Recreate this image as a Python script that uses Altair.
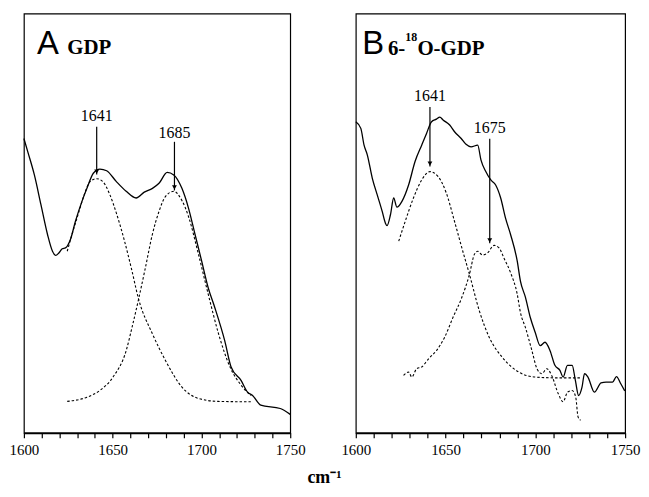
import altair as alt
import pandas as pd

# ---------------- Panel A : GDP ----------------
a_solid_wn = [1600.0, 1602.2, 1605.9, 1609.6, 1613.3, 1616.1, 1617.9, 1619.7, 1621.6, 1623.4,
              1626.2, 1629.0, 1632.7, 1635.5, 1639.1, 1642.8, 1646.6, 1652.1, 1657.6, 1663.2,
              1667.8, 1672.4, 1676.1, 1680.7, 1684.4, 1689.0, 1692.7, 1696.4, 1700.1, 1703.8,
              1707.5, 1713.1, 1716.7, 1722.3, 1726.0, 1728.8, 1733.4, 1744.4, 1750.0]
a_solid_abs = [70.2, 67.0, 61.5, 54.4, 47.3, 43.3, 42.3, 42.9, 43.9, 44.1,
               46.1, 50.4, 55.2, 58.3, 61.9, 62.9, 62.5, 59.9, 57.6, 56.0,
               57.4, 58.3, 59.5, 62.1, 61.5, 58.3, 53.6, 47.3, 41.0, 34.6,
               29.9, 22.0, 15.7, 12.5, 9.7, 8.9, 6.6, 5.8, 4.4]

a_fit1_wn = [1624.4, 1627.3, 1630.7, 1634.0, 1637.3, 1641.0, 1644.5, 1648.4, 1652.3, 1656.7,
             1660.6, 1664.6, 1672.4, 1679.8, 1689.0, 1698.3, 1709.4, 1727.8]
a_fit1_abs = [43.3, 47.6, 52.3, 56.8, 59.9, 60.6, 59.9, 56.8, 52.1, 45.7,
              39.1, 31.9, 23.6, 17.2, 10.9, 8.2, 7.5, 7.4]

a_fit2_wn = [1624.4, 1635.5, 1642.8, 1650.2, 1657.6, 1661.1, 1664.6, 1668.3, 1672.4, 1676.1,
             1679.8, 1684.4, 1689.0, 1692.7, 1698.3, 1703.8, 1709.3, 1716.5, 1722.1, 1727.7]
a_fit2_abs = [7.5, 8.5, 10.1, 13.3, 19.6, 25.5, 31.9, 39.1, 47.4, 52.8,
              56.4, 57.6, 55.4, 51.6, 42.6, 33.1, 24.1, 15.3, 11.5, 8.9]

a_peak_text = ["1641", "1685"]
a_peak_wn = [1641.0, 1684.8]
a_label_abs = [75.5, 71.4]
a_arrow_top = [73.0, 69.4]
a_arrow_tip = [61.6, 57.8]

# ---------------- Panel B : 6-18O-GDP ----------------
b_solid_wn = [1600.0, 1602.8, 1604.6, 1606.4, 1609.2, 1611.9, 1614.7, 1616.5, 1617.4, 1619.3,
              1621.1, 1622.9, 1625.7, 1629.4, 1633.0, 1636.7, 1639.4, 1642.2, 1644.9, 1646.8,
              1648.6, 1652.3, 1655.0, 1658.7, 1661.4, 1664.2, 1667.9, 1669.7, 1672.4, 1675.2,
              1677.9, 1680.7, 1683.4, 1686.2, 1689.9, 1691.7, 1694.5, 1697.2, 1699.9, 1702.7,
              1705.4, 1708.2, 1710.9, 1713.7, 1715.5, 1717.9, 1720.5, 1722.3, 1724.1, 1726.0,
              1727.4, 1729.3, 1732.9, 1736.6, 1739.4, 1743.0, 1745.2, 1747.6, 1749.8]
b_solid_abs = [74.2, 72.6, 68.6, 66.3, 60.7, 56.8, 52.8, 50.0, 49.4, 52.0,
               56.0, 53.8, 55.2, 59.1, 64.7, 68.6, 71.4, 74.2, 74.8, 75.3,
               74.6, 73.4, 71.8, 70.2, 68.8, 68.2, 68.6, 65.1, 62.3, 60.3,
               59.1, 56.0, 51.2, 47.3, 41.0, 36.2, 32.3, 27.5, 24.0, 20.8,
               21.6, 19.6, 16.1, 14.9, 13.3, 16.1, 16.1, 12.5, 8.9, 10.9,
               14.1, 13.3, 9.7, 11.9, 12.1, 12.1, 13.4, 11.7, 10.0]

b_fit1_wn = [1623.9, 1627.5, 1632.1, 1636.7, 1641.3, 1645.9, 1650.4, 1655.0, 1659.6, 1663.3,
             1668.8, 1674.3, 1681.6, 1690.8, 1699.9, 1712.8, 1725.6]
b_fit1_abs = [45.7, 50.4, 56.0, 60.3, 62.3, 61.1, 57.2, 50.4, 43.3, 37.8,
              29.1, 22.8, 18.0, 14.5, 13.3, 13.1, 13.1]

b_fit2_wn = [1626.6, 1629.4, 1631.2, 1633.9, 1636.7, 1640.4, 1644.9, 1649.5, 1654.1, 1658.7,
             1663.3, 1666.0, 1667.9, 1670.6, 1673.4, 1677.0, 1679.8, 1682.5, 1686.2, 1689.9,
             1691.7, 1694.5, 1698.1, 1700.9, 1703.6, 1706.4, 1709.1, 1712.8, 1715.5, 1717.9,
             1720.5, 1722.5, 1723.8, 1725.2]
b_fit2_abs = [13.7, 14.5, 13.3, 15.3, 15.7, 17.6, 19.6, 22.8, 27.5, 31.9,
              37.8, 42.5, 43.3, 42.4, 42.9, 44.7, 44.1, 41.7, 38.2, 33.1,
              28.7, 25.1, 19.6, 15.3, 14.1, 15.3, 13.7, 9.3, 7.4, 9.7,
              10.1, 8.5, 3.8, 3.0]

b_peak_text = ["1641", "1675"]
b_peak_wn = [1641.3, 1674.6]
b_label_abs = [80.3, 72.7]
b_arrow_top = [77.7, 70.1]
b_arrow_tip = [63.5, 45.2]

# panel title pieces
a_title_text = ["A", "GDP"]
a_title_wn = [1607.4, 1624.4]
a_title_abs = [90.3, 90.3]
a_title_font = ["Liberation Sans", "Liberation Serif"]
a_title_size = [33, 21]
a_title_weight = ["normal", "bold"]

b_title_text = ["B", "6-", "18", "O-GDP"]
b_title_wn = [1603.6, 1617.9, 1627.6, 1634.3]
b_title_abs = [90.3, 90.0, 93.4, 90.0]
b_title_font = ["Liberation Sans", "Liberation Serif", "Liberation Serif", "Liberation Serif"]
b_title_size = [33, 21, 12, 21]
b_title_weight = ["normal", "bold", "bold", "bold"]

tick_values = list(range(1600, 1751, 10))

SERIF = "Liberation Serif"


def panel(solid_wn, solid_abs, fits, peak_text, peak_wn, label_abs, arrow_top, arrow_tip,
          t_text, t_wn, t_abs, t_font, t_size, t_weight, width):
    xscale = alt.Scale(domain=[1600, 1750], nice=False)
    yscale = alt.Scale(domain=[0, 100], nice=False)
    xaxis = alt.Axis(values=tick_values,
                     labelExpr="datum.value % 50 == 0 ? datum.value : ''",
                     title=None, grid=False, tickSize=5, tickWidth=1.2,
                     domainWidth=1.6, domainColor="black", tickColor="black",
                     labelColor="black", labelFont=SERIF, labelFontSize=15,
                     labelPadding=5, labelFlush=False, labelOverlap=False)
    x = alt.X("wn:Q", scale=xscale, axis=xaxis)
    y = alt.Y("abs:Q", scale=yscale, axis=None)

    solid = alt.Chart(pd.DataFrame({"wn": solid_wn, "abs": solid_abs})).mark_line(
        color="black", strokeWidth=1.3, interpolate="monotone").encode(x=x, y=y)

    layers = [solid]
    for fwn, fab in fits:
        layers.append(alt.Chart(pd.DataFrame({"wn": fwn, "abs": fab})).mark_line(
            color="black", strokeWidth=1.1, strokeDash=[2.5, 2], interpolate="monotone"
        ).encode(x=x, y=y))

    ann = pd.DataFrame({"txt": peak_text, "wn": peak_wn, "lab": label_abs,
                        "top": arrow_top, "tip": arrow_tip})
    layers.append(alt.Chart(ann).mark_rule(color="black", strokeWidth=1.2).encode(
        x=x, y=alt.Y("top:Q", scale=yscale, axis=None), y2="tip:Q"))
    layers.append(alt.Chart(ann).mark_point(shape="triangle-down", filled=True, size=24,
                                            color="black", opacity=1, yOffset=-3).encode(
        x=x, y=alt.Y("tip:Q", scale=yscale, axis=None)))
    layers.append(alt.Chart(ann).mark_text(font=SERIF, fontSize=16, color="black",
                                           baseline="middle", align="center").encode(
        x=x, y=alt.Y("lab:Q", scale=yscale, axis=None), text="txt:N"))

    tt = pd.DataFrame({"txt": t_text, "wn": t_wn, "abs": t_abs})
    for i in range(len(t_text)):
        layers.append(alt.Chart(tt.iloc[[i]]).mark_text(
            font=t_font[i], fontSize=t_size[i], fontWeight=t_weight[i], color="black",
            align="left", baseline="alphabetic").encode(
            x=x, y=alt.Y("abs:Q", scale=yscale, axis=None), text="txt:N"))

    return alt.layer(*layers).properties(width=width, height=422)


pa = panel(a_solid_wn, a_solid_abs, [(a_fit1_wn, a_fit1_abs), (a_fit2_wn, a_fit2_abs)],
           a_peak_text, a_peak_wn, a_label_abs, a_arrow_top, a_arrow_tip,
           a_title_text, a_title_wn, a_title_abs, a_title_font, a_title_size, a_title_weight, 268)
pb = panel(b_solid_wn, b_solid_abs, [(b_fit1_wn, b_fit1_abs), (b_fit2_wn, b_fit2_abs)],
           b_peak_text, b_peak_wn, b_label_abs, b_arrow_top, b_arrow_tip,
           b_title_text, b_title_wn, b_title_abs, b_title_font, b_title_size, b_title_weight, 271)

chart = alt.hconcat(pa, pb, spacing=34).properties(
    title=alt.TitleParams("cm⁻¹", orient="bottom", anchor="middle", font=SERIF,
                          fontSize=18, fontWeight="bold", color="black", offset=11)
).configure(
    padding={"left": 0, "top": 3, "right": 0, "bottom": 0}
).configure_view(stroke="black", strokeWidth=1.2)

chart.save("out.html", embed_options={"renderer": "svg", "actions": False})
